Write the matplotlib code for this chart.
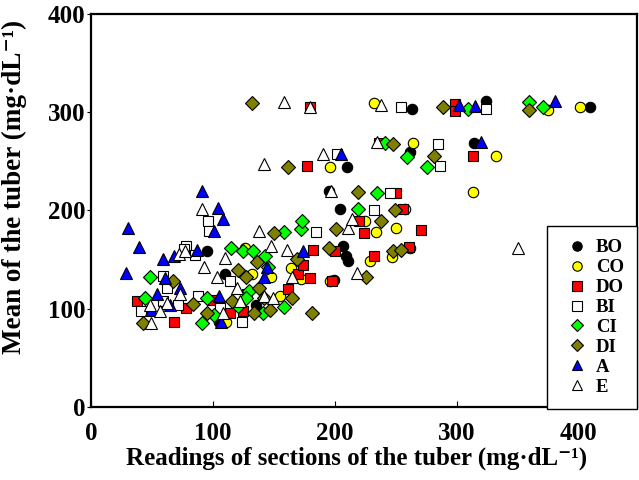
import matplotlib
matplotlib.use("Agg")
import matplotlib.pyplot as plt

plt.rcParams['font.family'] = ['Liberation Serif', 'DejaVu Serif']
plt.rcParams['font.weight'] = 'bold'

# Series (x = readings of sections, y = mean of tuber)
bo_x = [95, 110, 204, 207, 209, 211, 210, 195, 263, 262, 314, 324, 409, 199, 105, 135]
bo_y = [159, 135, 201, 164, 154, 149, 244, 220, 303, 259, 269, 311, 305, 129, 87, 104]

co_x = [232, 375, 401, 264, 332, 313, 196, 225, 234, 250, 258, 262, 247, 229, 164, 172, 148, 132, 126, 155, 111, 196]
co_y = [309, 302, 305, 269, 255, 219, 244, 189, 178, 182, 202, 162, 153, 149, 141, 130, 132, 135, 162, 113, 87, 128]

do_x = [38, 68, 78, 99, 114, 125, 162, 170, 174, 182, 180, 198, 200, 220, 224, 232, 250, 256, 261, 271, 313, 299, 299, 177, 236, 180]
do_y = [108, 87, 101, 109, 96, 98, 120, 135, 145, 160, 131, 128, 159, 189, 177, 154, 218, 201, 163, 180, 255, 308, 301, 245, 269, 305]

bi_x = [96, 97, 78, 76, 85, 59, 62, 59, 41, 88, 124, 114, 185, 232, 245, 202, 254, 324, 285, 286, 128, 106, 71]
bi_y = [189, 179, 164, 161, 155, 133, 121, 108, 98, 113, 87, 128, 178, 200, 218, 257, 305, 303, 268, 245, 115, 101, 104]

ci_x = [48, 44, 91, 95, 101, 115, 125, 133, 143, 145, 130, 127, 121, 141, 158, 158, 172, 173, 219, 235, 259, 276, 241, 309, 359, 371]
ci_y = [132, 111, 86, 111, 94, 162, 159, 159, 154, 142, 118, 111, 103, 96, 102, 178, 181, 189, 201, 218, 254, 244, 269, 303, 310, 305]

di_x = [43, 67, 84, 95, 116, 121, 127, 136, 138, 142, 134, 147, 150, 165, 169, 181, 162, 195, 201, 219, 238, 249, 248, 226, 132, 248, 281, 289, 359, 254]
di_y = [86, 128, 105, 96, 108, 139, 132, 148, 121, 111, 96, 99, 177, 111, 151, 96, 244, 162, 181, 219, 189, 200, 159, 132, 309, 268, 255, 305, 302, 160]

a_x = [30, 39, 29, 91, 104, 108, 101, 87, 59, 68, 61, 54, 73, 65, 49, 105, 107, 144, 142, 174, 205, 320, 302, 315, 381]
a_y = [182, 163, 136, 220, 203, 191, 179, 160, 151, 154, 131, 115, 121, 104, 99, 113, 87, 142, 132, 159, 257, 270, 307, 306, 311]

e_x = [91, 93, 103, 110, 138, 148, 161, 165, 120, 72, 77, 73, 62, 49, 57, 48, 108, 142, 149, 122, 158, 180, 238, 142, 190, 197, 211, 214, 218, 235, 350]
e_y = [202, 142, 132, 152, 179, 164, 160, 132, 121, 156, 159, 115, 106, 86, 98, 104, 96, 113, 111, 108, 310, 305, 307, 247, 257, 220, 182, 191, 136, 270, 162]

series = [
    ('BO', bo_x, bo_y, 'o', 'black'),
    ('CO', co_x, co_y, 'o', '#ffff00'),
    ('DO', do_x, do_y, 's', '#ff0000'),
    ('BI', bi_x, bi_y, 's', 'white'),
    ('CI', ci_x, ci_y, 'D', '#00ff00'),
    ('DI', di_x, di_y, 'D', '#808000'),
    ('A', a_x, a_y, '^', '#0000ff'),
    ('E', e_x, e_y, '^', 'white'),
]

fig = plt.figure(figsize=(6.39, 4.8), dpi=100)
ax = fig.add_axes([0.1424, 0.152, 0.8546, 0.819])

for name, xs, ys, mk, col in series:
    ms = 7.5 if mk in ('o', 's') else (7 if mk == 'D' else 8)
    ax.plot(xs, ys, linestyle='none', marker=mk, markersize=ms,
            markerfacecolor=col, markeredgecolor='black', markeredgewidth=0.8,
            label=name)

ax.set_xlim(0, 448)
ax.set_ylim(0, 400)
ax.set_xticks([0, 100, 200, 300, 400])
ax.set_yticks([0, 100, 200, 300, 400])
ax.tick_params(axis='x', direction='in', length=4, labelsize=18, pad=11)
ax.tick_params(axis='y', direction='out', length=3, labelsize=18, pad=1)
for s in ax.spines.values():
    s.set_linewidth(1.6)

ax.set_xlabel('Readings of sections of the tuber (mg·dL⁻¹)', fontsize=18, fontweight='bold')
ax.set_ylabel('Mean of the tuber (mg·dL⁻¹)', fontsize=19.5, fontweight='bold')
ax.xaxis.set_label_coords(0.486, -0.10)
ax.yaxis.set_label_coords(-0.118, 0.56)

leg = fig.legend(loc='lower right', bbox_to_anchor=(0.997, 0.148), fontsize=13.5,
                 frameon=True, fancybox=False, edgecolor='black', framealpha=1,
                 handlelength=1.8, handletextpad=0.1, labelspacing=0.15,
                 borderpad=0.7, borderaxespad=0, markerscale=0.9)
leg.get_frame().set_linewidth(1.0)
for t in leg.get_texts():
    t.set_fontweight('bold')

fig.savefig('out.png', dpi=100)
